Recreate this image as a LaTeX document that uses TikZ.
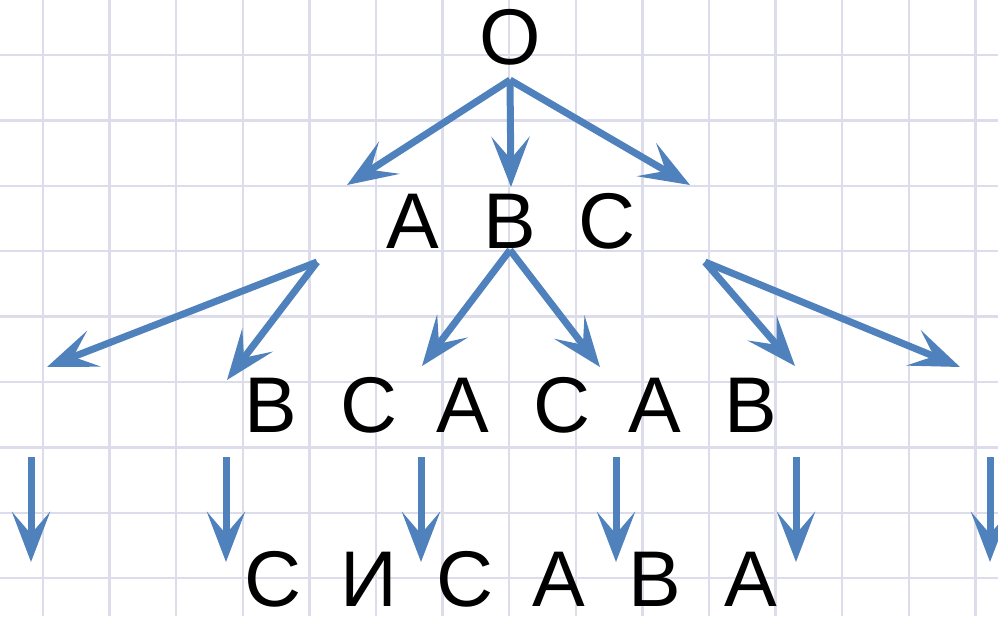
\documentclass[tikz,border=0pt]{standalone}
\usepackage{fontspec}
\setmainfont{Liberation Sans}
\usetikzlibrary{arrows.meta}
\definecolor{gridc}{RGB}{220,220,234}
\definecolor{arrc}{RGB}{79,129,189}
\begin{document}
\begin{tikzpicture}[x=1pt,y=-1pt,
  lbl/.style={inner sep=0pt, anchor=base, font=\fontsize{79}{79}\selectfont},
  arr/.style={draw=arrc, line width=7pt, -{Stealth[length=50pt,width=38pt,inset=22pt]}},
  gridline/.style={draw=gridc, line width=2.5pt}]
\fill[white] (0,0) rectangle (998,616);
\useasboundingbox (0,0) rectangle (998,616);
\foreach \i in {0,...,14} \draw[gridline] ({43+66.6*\i},0) -- ({43+66.6*\i},616);
\foreach \j in {0,...,8} \draw[gridline] (0,{55+65.4*\j}) -- (998,{55+65.4*\j});
% labels
\node[lbl] (nO) at (510,64) {O};
\node[lbl] (nA) at (413,248) {A};
\node[lbl] (nB) at (510,248) {B};
\node[lbl] (nC) at (607,248) {C};
\node[lbl] (r1) at (271,432) {B};
\node[lbl] (r2) at (369,432) {C};
\node[lbl] (r3) at (463,432) {A};
\node[lbl] (r4) at (562,432) {C};
\node[lbl] (r5) at (655,432) {A};
\node[lbl] (r6) at (751,432) {B};
\node[lbl] (s1) at (273,606) {C};
\node[lbl] (s2) at (369,606) {И};
\node[lbl] (s3) at (465,606) {C};
\node[lbl] (s4) at (559,606) {A};
\node[lbl] (s5) at (655,606) {B};
\node[lbl] (s6) at (751,606) {A};
% coordinates
\coordinate (o) at (510,80);
\coordinate (t1) at (347,185);
\coordinate (t2) at (511,187);
\coordinate (t3) at (690,185);
\coordinate (pA) at (317,262);
\coordinate (pB) at (510,250);
\coordinate (pC) at (705,262);
\coordinate (u1) at (47,367);
\coordinate (u2) at (227,380);
\coordinate (u3) at (422,366);
\coordinate (u4) at (600,367);
\coordinate (u5) at (795,366);
\coordinate (u6) at (960,367);
\foreach \k/\x in {1/31,2/226,3/421,4/616,5/796,6/990} {
  \coordinate (v\k) at (\x,457);
  \coordinate (w\k) at (\x,562);
}
% arrows
\draw[arr] (o) -- (t1);
\draw[arr] (o) -- (t2);
\draw[arr] (o) -- (t3);
\draw[arr] (pA) -- (u1);
\draw[arr] (pA) -- (u2);
\draw[arr] (pB) -- (u3);
\draw[arr] (pB) -- (u4);
\draw[arr] (pC) -- (u5);
\draw[arr] (pC) -- (u6);
\foreach \k in {1,...,6} \draw[arr] (v\k) -- (w\k);
\end{tikzpicture}
\end{document}
